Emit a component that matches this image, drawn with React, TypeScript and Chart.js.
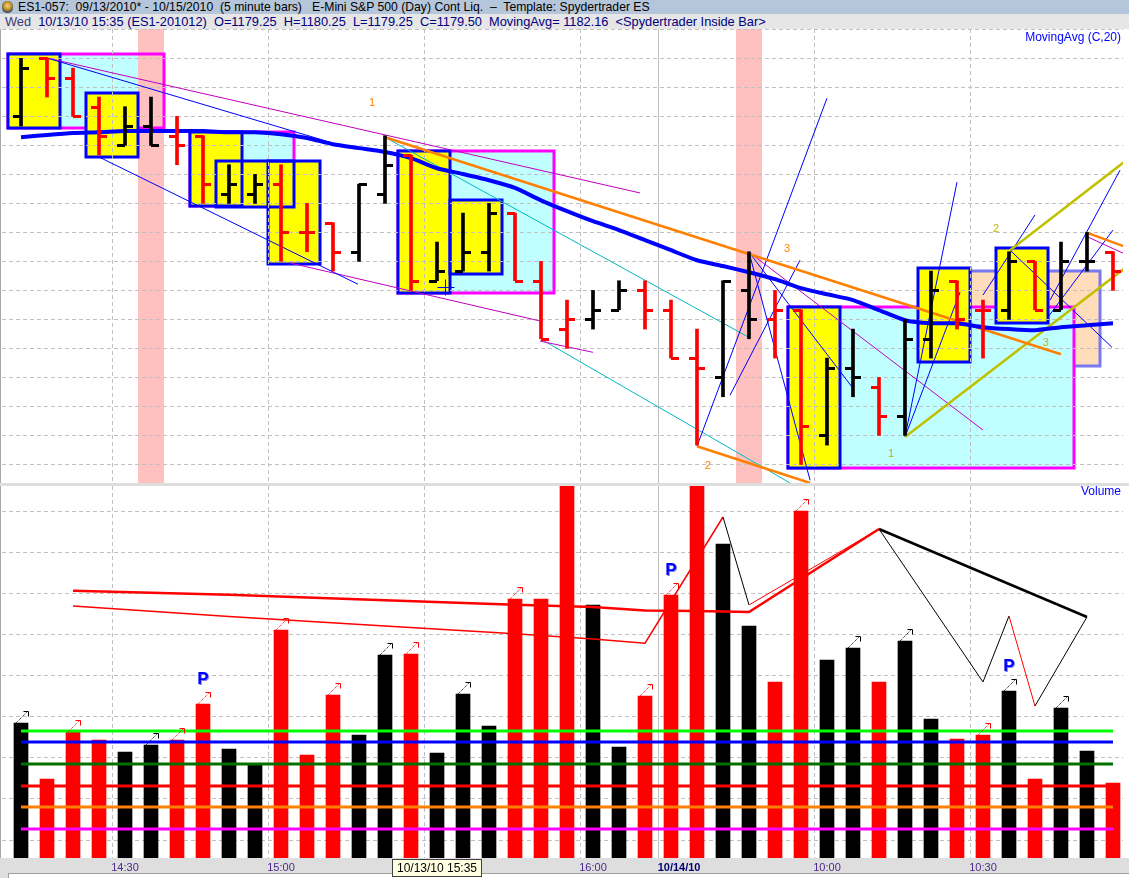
import React, { useEffect, useRef } from "react";
import { Chart, registerables } from "chart.js";

Chart.register(...registerables);

/* ================= DATA ================= */
const barTimes = ["14:15","14:20","14:25","14:30","14:35","14:40","14:45","14:50","14:55","15:00","15:05","15:10","15:15","15:20","15:25","15:30","15:35","15:40","15:45","15:50","15:55","16:00","16:05","16:10","16:15","09:35","09:40","09:45","09:50","09:55","10:00","10:05","10:10","10:15","10:20","10:25","10:30","10:35","10:40","10:45","10:50","10:55","11:00"];

const barSides = ["up","dn","dn","dn","up","up","dn","dn","up","up","dn","dn","dn","up","up","dn","up","up","up","dn","dn","dn","up","up","dn","dn","dn","up","up","dn","dn","up","up","dn","up","up","dn","dn","up","dn","up","up","dn"];

const opens = [1183.5,1185.0,1184.5,1183.75,1182.75,1183.25,1183.0,1183.0,1181.5,1181.5,1181.75,1180.5,1180.75,1180.0,1181.5,1182.5,1179.25,1179.5,1180.0,1181.0,1179.25,1178.0,1178.25,1178.5,1179.0,1178.5,1177.25,1176.75,1179.0,1178.25,1178.5,1175.25,1177.0,1176.5,1175.75,1177.75,1179.25,1178.5,1178.5,1179.75,1178.5,1179.75,1180.0];
const highs = [1185.0,1185.0,1184.75,1184.0,1183.75,1184.0,1183.5,1183.0,1182.25,1182.0,1182.25,1181.25,1180.75,1181.75,1183.0,1182.5,1180.25,1181.0,1181.25,1181.0,1179.75,1178.75,1179.0,1179.25,1179.25,1178.75,1178.0,1179.25,1180.0,1179.0,1178.5,1177.25,1178.0,1176.75,1178.25,1179.5,1179.25,1178.75,1180.0,1179.75,1180.25,1180.5,1180.0];
const lows = [1183.25,1184.0,1183.5,1182.5,1182.75,1182.75,1182.25,1181.25,1181.25,1181.25,1179.75,1180.0,1179.5,1179.75,1181.25,1179.0,1179.25,1179.5,1179.5,1179.25,1177.75,1177.5,1178.0,1178.5,1178.0,1177.25,1175.0,1176.25,1177.75,1177.25,1174.5,1175.0,1176.25,1175.25,1175.25,1177.25,1178.0,1177.25,1178.25,1178.5,1178.5,1179.5,1179.0];
const closes = [1184.75,1184.5,1183.5,1183.0,1183.25,1182.75,1182.75,1181.75,1181.75,1181.75,1180.5,1180.5,1180.0,1181.75,1182.25,1179.25,1179.5,1180.0,1181.0,1179.25,1177.75,1178.25,1178.5,1179.0,1178.5,1177.25,1177.0,1179.25,1178.25,1178.5,1175.5,1177.0,1176.75,1175.75,1177.75,1179.0,1178.25,1178.5,1179.75,1178.5,1179.75,1179.75,1179.5];

const movingAvg = [1182.96,1183.02,1183.07,1183.09,1183.12,1183.12,1183.12,1183.12,1183.09,1183.09,1183.04,1182.94,1182.78,1182.68,1182.58,1182.42,1182.16,1182.01,1181.85,1181.65,1181.33,1181.05,1180.79,1180.56,1180.30,1180.04,1179.78,1179.63,1179.47,1179.29,1179.06,1178.90,1178.75,1178.49,1178.23,1178.15,1178.15,1178.05,1178.00,1177.97,1178.05,1178.10,1178.15];

const volumes = [3854,2488,3634,3439,3146,3317,3439,4317,3220,2829,6122,3073,4537,3561,5512,5537,3122,4561,3780,6878,6878,10400,6732,3268,4512,6976,10900,8220,6220,4854,9024,5390,5683,4854,5854,3951,3463,3561,4634,2488,4220,3171,2390];

const priceGridLevels = [1174.5,1175.25,1176.0,1176.75,1177.5,1178.25,1179.0,1179.75,1180.5,1181.25,1182.0,1182.75,1183.5,1184.25,1185.0,1185.75];
const volumeGridLevels = [1000,2000,3000,4000,5000,6000,7000,8000,9000];

const timeGridAt = [4.5, 10.5, 16.5, 22.5, 31.5, 37.5];
const sessionBreakAt = 25.5;
const axisLabelBars = [5, 11, 23, 26.31, 32, 38];
const axisLabels = ["14:30", "15:00", "16:00", "10/14/10", "10:00", "10:30"];
const cursorBar = 17;
const cursorLabel = "10/13/10 15:35";
const cursorPoint = [17.31, 1179.08];

// zones: [fromBar, toBar, topPrice, bottomPrice]
const zoneBoxes = [
  [1, 6, 1185.11, 1183.19],
  [8, 11, 1183.09, 1181.18],
  [16, 21, 1182.60, 1178.93],
  [31, 41, 1178.57, 1174.40],
];
const pendingBoxes = [[38, 42, 1179.50, 1177.04]];
const insideBarBoxes = [
  [1, 2, 1185.11, 1183.19],
  [4, 5, 1184.10, 1182.45],
  [8, 9, 1183.09, 1181.18],
  [9, 11, 1182.34, 1181.16],
  [11, 12, 1182.34, 1179.68],
  [16, 17, 1182.60, 1178.93],
  [18, 19, 1181.34, 1179.42],
  [31, 32, 1178.57, 1174.40],
  [36, 37, 1179.58, 1177.15],
  [39, 40, 1180.09, 1178.15],
];
const highlightBars = [6, 29];

const blueTrendLines = [
  [[2.0, 1185.01], [13.0, 1182.81]],
  [[4.0, 1182.45], [13.96, 1179.16]],
  [[27.0, 1174.97], [32.0, 1183.97]],
  [[29.0, 1179.99], [31.35, 1174.09]],
  [[28.27, 1176.29], [30.96, 1179.78]],
  [[29.0, 1179.99], [33.0, 1176.47]],
  [[35.0, 1175.21], [37.0, 1181.80]],
  [[35.0, 1175.21], [37.12, 1178.96]],
  [[38.0, 1178.88], [40.0, 1180.95]],
  [[39.04, 1180.04], [42.96, 1177.53]],
  [[40.5, 1178.31], [43.0, 1180.56]],
  [[40.58, 1178.75], [43.27, 1182.11]],
];
const magentaTrendLines = [
  [[2.0, 1185.01], [24.81, 1181.52]],
  [[11.35, 1179.71], [20.96, 1178.21]],
  [[20.96, 1177.69], [23.0, 1177.40]],
  [[29.0, 1179.99], [38.0, 1175.39]],
  [[42.04, 1180.38], [43.62, 1179.89]],
];
const cyanTrendLines = [
  [[15.0, 1182.96], [29.04, 1177.77]],
  [[21.0, 1177.74], [30.58, 1174.02]],
];
const orangeTrendLines = [
  [[15.0, 1182.96], [41.0, 1177.35]],
  [[27.0, 1174.97], [31.35, 1174.02]],
  [[42.04, 1180.48], [43.62, 1180.09]],
];
const oliveTrendLines = [
  [[35.0, 1175.21], [43.62, 1179.66]],
  [[39.04, 1180.04], [43.62, 1182.42]],
];
const orangeWaveLabels = [[14.5, 1183.84, "1"], [27.42, 1174.46, "2"], [30.46, 1180.07, "3"]];
const oliveWaveLabels = [[34.46, 1174.77, "1"], [38.5, 1180.59, "2"], [40.42, 1177.64, "3"]];

const volumeLevels = [3659, 3390, 2854, 2317, 1805, 1268];
const volumeAvgUpper = [[3, 7080], [9, 6980], [15, 6850], [20, 6740], [23, 6680], [25, 6600], [27, 6585], [29, 6561], [34, 8585]];
const volumeAvgLower = [[3, 6707], [9, 6450], [15, 6220], [20, 6030], [23, 5900], [25, 5800], [28, 8878]];
const volumeSwings = [[28, 8878], [29, 6732], [34, 8585], [38, 4854], [39, 6463], [40, 4268], [42, 6439]];
const volumeSwingTrend = [[34, 8585], [42, 6439]];
const arrowBars = [1, 3, 6, 7, 8, 11, 13, 15, 16, 18, 20, 25, 26, 31, 33, 35, 38, 39, 41];
const pBars = [8, 26, 39];

/* ================= STYLE ================= */
const FONT = '"Liberation Sans", Arial, sans-serif';
const X_MIN = 0.269;
const X_MAX = 43.385;
const UP = "#000000";
const DN = "#FF0000";
const sideColor = (s: string) => (s === "up" ? UP : DN);
const levelColors = ["#00FF00", "#0000FF", "#007000", "#FF0000", "#FF8000", "#FF00FF"];
const swingColors = ["#000000", "#FF0000", "#000000", "#000000", "#FF0000", "#000000"];
const GRID = "#C0C0C0";

const seg = (pts: number[][], color: string, width: number, order: number) => ({
  type: "line",
  data: pts.map(([x, y]) => ({ x, y })),
  borderColor: color,
  borderWidth: width,
  pointRadius: 0,
  fill: false,
  tension: 0,
  order,
});

function drawVerticalGrid(chart: any) {
  const { ctx, chartArea: a, scales } = chart;
  const x = scales.x;
  ctx.save();
  ctx.strokeStyle = GRID;
  ctx.lineWidth = 1;
  ctx.setLineDash([4, 3]);
  for (const g of timeGridAt) {
    const px = Math.round(x.getPixelForValue(g)) + 0.5;
    ctx.beginPath();
    ctx.moveTo(px, a.top);
    ctx.lineTo(px, a.bottom);
    ctx.stroke();
  }
  ctx.setLineDash([]);
  const sx = Math.round(x.getPixelForValue(sessionBreakAt)) + 0.5;
  ctx.beginPath();
  ctx.moveTo(sx, a.top);
  ctx.lineTo(sx, a.bottom);
  ctx.stroke();
  ctx.restore();
}

const pricePlugin = {
  id: "pricePanel",
  beforeDraw(chart: any) {
    const { ctx, chartArea: a, scales } = chart;
    const x = scales.x;
    const y = scales.y;
    ctx.save();
    ctx.fillStyle = "#FFFFFF";
    ctx.fillRect(0, 0, chart.width, chart.height);
    ctx.fillStyle = "#A8A8A8";
    ctx.fillRect(0, 0, 1, chart.height);
    ctx.beginPath();
    ctx.rect(a.left, a.top, a.right - a.left, a.bottom - a.top);
    ctx.clip();
    const rect = (b: number[]) => {
      const l = x.getPixelForValue(b[0] - 0.5);
      const r = x.getPixelForValue(b[1] + 0.5);
      const t = y.getPixelForValue(b[2]);
      const bt = y.getPixelForValue(b[3]);
      return [Math.round(l), Math.round(t), Math.round(r - l), Math.round(bt - t)];
    };
    ctx.lineWidth = 3;
    for (const b of pendingBoxes) {
      const [l, t, w, h] = rect(b);
      ctx.fillStyle = "#FFDDBB";
      ctx.fillRect(l, t, w, h);
      ctx.strokeStyle = "#7878F0";
      ctx.strokeRect(l, t, w, h);
    }
    for (const b of zoneBoxes) {
      const [l, t, w, h] = rect(b);
      ctx.fillStyle = "#C0FFFF";
      ctx.fillRect(l, t, w, h);
    }
    for (const k of highlightBars) {
      const l = Math.round(x.getPixelForValue(k - 0.5));
      const r = Math.round(x.getPixelForValue(k + 0.5));
      ctx.fillStyle = "#FFC0C0";
      ctx.fillRect(l, a.top, r - l, a.bottom - a.top);
    }
    for (const b of zoneBoxes) {
      const [l, t, w, h] = rect(b);
      ctx.strokeStyle = "#FF00FF";
      ctx.strokeRect(l, t, w, h);
    }
    for (const b of insideBarBoxes) {
      const [l, t, w, h] = rect(b);
      ctx.fillStyle = "#FFFF00";
      ctx.fillRect(l, t, w, h);
    }
    for (const b of insideBarBoxes) {
      const [l, t, w, h] = rect(b);
      ctx.strokeStyle = "#0000FF";
      ctx.strokeRect(l, t, w, h);
    }
    ctx.restore();
  },
  beforeDatasetsDraw(chart: any) {
    drawVerticalGrid(chart);
  },
  afterDatasetsDraw(chart: any) {
    const { ctx, chartArea: a, scales } = chart;
    const x = scales.x;
    const y = scales.y;
    ctx.save();
    ctx.beginPath();
    ctx.rect(a.left, a.top, a.right - a.left, a.bottom - a.top);
    ctx.clip();
    barTimes.forEach((_, i) => {
      const cx = Math.round(x.getPixelForValue(i + 1));
      ctx.fillStyle = sideColor(barSides[i]);
      const yo = Math.round(y.getPixelForValue(opens[i]));
      const yc = Math.round(y.getPixelForValue(closes[i]));
      ctx.fillRect(cx - 8, yo - 1, 8, 3);
      ctx.fillRect(cx, yc - 1, 8, 3);
    });
    ctx.font = `11px ${FONT}`;
    ctx.textAlign = "center";
    ctx.textBaseline = "middle";
    for (const [b, p, t] of orangeWaveLabels as any) {
      ctx.fillStyle = "#FF8000";
      ctx.fillText(t, x.getPixelForValue(b), y.getPixelForValue(p));
    }
    for (const [b, p, t] of oliveWaveLabels as any) {
      ctx.fillStyle = "#C0B400";
      ctx.fillText(t, x.getPixelForValue(b), y.getPixelForValue(p));
    }
    const ccx = Math.round(x.getPixelForValue(cursorPoint[0])) + 0.5;
    const ccy = Math.round(y.getPixelForValue(cursorPoint[1])) + 0.5;
    ctx.strokeStyle = "#0000FF";
    ctx.lineWidth = 1;
    ctx.beginPath();
    ctx.moveTo(ccx - 8, ccy);
    ctx.lineTo(ccx + 9, ccy);
    ctx.moveTo(ccx, ccy - 8);
    ctx.lineTo(ccx, ccy + 8);
    ctx.stroke();
    ctx.restore();
    ctx.save();
    ctx.font = `12px ${FONT}`;
    ctx.fillStyle = "#0000FF";
    ctx.textAlign = "right";
    ctx.textBaseline = "middle";
    ctx.fillText("MovingAvg (C,20)", a.right - 2, 9);
    ctx.restore();
  },
};

const volumePlugin = {
  id: "volumePanel",
  beforeDraw(chart: any) {
    const { ctx, chartArea: a } = chart;
    ctx.save();
    ctx.fillStyle = "#DEDEDE";
    ctx.fillRect(0, 0, chart.width, chart.height);
    ctx.fillStyle = "#FFFFFF";
    ctx.fillRect(1, 0, chart.width - 1, a.bottom);
    ctx.fillStyle = "#A8A8A8";
    ctx.fillRect(0, 0, 1, a.bottom);
    ctx.fillStyle = "#FFFFFF";
    ctx.fillRect(8, a.bottom + 15, chart.width - 8, 5);
    ctx.fillStyle = "#A0A0A0";
    ctx.fillRect(8, a.bottom + 15, chart.width - 8, 1);
    ctx.fillRect(8, a.bottom + 15, 1, 5);
    ctx.restore();
  },
  beforeDatasetsDraw(chart: any) {
    drawVerticalGrid(chart);
  },
  afterDatasetsDraw(chart: any) {
    const { ctx, chartArea: a, scales } = chart;
    const x = scales.x;
    const y = scales.y;
    ctx.save();
    ctx.beginPath();
    ctx.rect(a.left, a.top, a.right - a.left, a.bottom - a.top);
    ctx.clip();
    ctx.lineWidth = 1;
    for (const k of arrowBars) {
      const cx = Math.round(x.getPixelForValue(k));
      const top = Math.round(y.getPixelForValue(volumes[k - 1]));
      const col = sideColor(barSides[k - 1]);
      ctx.strokeStyle = col;
      ctx.setLineDash([1, 1]);
      ctx.beginPath();
      ctx.moveTo(cx - 5, top);
      ctx.lineTo(cx + 7, top - 12);
      ctx.stroke();
      ctx.setLineDash([]);
      ctx.beginPath();
      ctx.moveTo(cx + 2.5, top - 11.5);
      ctx.lineTo(cx + 7.5, top - 11.5);
      ctx.lineTo(cx + 7.5, top - 6.5);
      ctx.stroke();
    }
    ctx.font = `bold 17px ${FONT}`;
    ctx.textAlign = "center";
    ctx.textBaseline = "middle";
    for (const k of pBars) {
      const cx = x.getPixelForValue(k);
      const top = y.getPixelForValue(volumes[k - 1]);
      ctx.fillStyle = "#8080FF";
      ctx.fillText("P", cx + 1, top - 24);
      ctx.fillStyle = "#0000FF";
      ctx.fillText("P", cx, top - 25);
    }
    ctx.restore();
    ctx.save();
    ctx.font = `12px ${FONT}`;
    ctx.fillStyle = "#0000FF";
    ctx.textAlign = "right";
    ctx.textBaseline = "middle";
    ctx.fillText("Volume", a.right - 2, 6);
    ctx.restore();
  },
  afterDraw(chart: any) {
    const { ctx, chartArea: a, scales } = chart;
    const cx = scales.x.getPixelForValue(cursorBar);
    ctx.save();
    ctx.font = `12px ${FONT}`;
    const w = Math.ceil(ctx.measureText(cursorLabel).width) + 8;
    const l = Math.round(cx - w / 2) + 0.5;
    const t = a.bottom + 1.5;
    ctx.fillStyle = "#FFFFE1";
    ctx.fillRect(l, t, w, 17);
    ctx.strokeStyle = "#404040";
    ctx.lineWidth = 1;
    ctx.strokeRect(l, t, w, 17);
    ctx.fillStyle = "#000000";
    ctx.textAlign = "center";
    ctx.textBaseline = "middle";
    ctx.fillText(cursorLabel, l + w / 2, t + 9);
    ctx.restore();
  },
};

export default function App() {
  const priceRef = useRef<HTMLCanvasElement>(null);
  const volRef = useRef<HTMLCanvasElement>(null);

  useEffect(() => {
    const barColors = barSides.map(sideColor);
    const priceChart = new Chart(priceRef.current as HTMLCanvasElement, {
      type: "bar",
      data: {
        datasets: [
          {
            type: "bar",
            data: barTimes.map((_, i) => ({ x: i + 1, y: [lows[i], highs[i]] })),
            backgroundColor: barColors,
            barThickness: 3,
            borderWidth: 0,
            order: 0,
          },
          {
            type: "line",
            data: movingAvg.map((v, i) => ({ x: i + 1, y: v })),
            borderColor: "#0000FF",
            borderWidth: 4,
            pointRadius: 0,
            tension: 0.2,
            fill: false,
            order: 1,
          },
          ...orangeTrendLines.map((p) => seg(p, "#FF8000", 2.5, 2)),
          ...oliveTrendLines.map((p) => seg(p, "#C0C000", 2.5, 2)),
          ...blueTrendLines.map((p) => seg(p, "#0000FF", 1, 3)),
          ...magentaTrendLines.map((p) => seg(p, "#C000C0", 1, 3)),
          ...cyanTrendLines.map((p) => seg(p, "#00B8C0", 1, 3)),
        ] as any,
      },
      options: {
        responsive: false,
        animation: false,
        devicePixelRatio: 1,
        events: [],
        layout: { padding: { left: 2, right: 6, top: 0, bottom: 0 } },
        plugins: { legend: { display: false }, tooltip: { enabled: false } },
        scales: {
          x: {
            type: "linear",
            min: X_MIN,
            max: X_MAX,
            offset: false,
            grid: { display: false },
            ticks: { display: false },
            border: { display: false },
            afterFit: (s: any) => { s.height = 0; },
          },
          y: {
            type: "linear",
            position: "right",
            min: 1174.02,
            max: 1185.76,
            afterBuildTicks: (s: any) => { s.ticks = priceGridLevels.map((v) => ({ value: v })); },
            ticks: { display: false },
            grid: { color: GRID, drawTicks: false, lineWidth: 1 },
            border: { display: false, dash: [4, 3] },
            afterFit: (s: any) => { s.width = 0; },
          },
        },
      } as any,
      plugins: [pricePlugin],
    });

    const volChart = new Chart(volRef.current as HTMLCanvasElement, {
      type: "bar",
      data: {
        datasets: [
          ...volumeLevels.map((v, i) => ({
            type: "line",
            data: [{ x: 1, y: v }, { x: 43, y: v }],
            borderColor: levelColors[i],
            borderWidth: 3,
            pointRadius: 0,
            fill: false,
            order: 3,
          })),
          seg(volumeAvgUpper, "#FF0000", 2.5, 2),
          seg(volumeAvgLower, "#FF0000", 1.5, 2),
          {
            type: "line",
            data: volumeSwings.map(([x, y]) => ({ x, y })),
            borderWidth: 1,
            borderColor: "#000000",
            segment: { borderColor: (c: any) => swingColors[c.p0DataIndex] },
            pointRadius: 0,
            fill: false,
            tension: 0,
            order: 1,
          },
          seg(volumeSwingTrend, "#000000", 2.5, 1),
          {
            type: "bar",
            data: volumes.map((v, i) => ({ x: i + 1, y: v })),
            backgroundColor: barColors,
            barThickness: 14,
            borderWidth: 0,
            order: 10,
          },
        ] as any,
      },
      options: {
        responsive: false,
        animation: false,
        devicePixelRatio: 1,
        events: [],
        layout: { padding: { left: 2, right: 6, top: 0, bottom: 0 } },
        plugins: { legend: { display: false }, tooltip: { enabled: false } },
        scales: {
          x: {
            type: "linear",
            min: X_MIN,
            max: X_MAX,
            offset: false,
            grid: { display: false, drawTicks: false },
            border: { display: false },
            afterBuildTicks: (s: any) => { s.ticks = axisLabelBars.map((v) => ({ value: v })); },
            ticks: {
              autoSkip: false,
              maxRotation: 0,
              padding: 3,
              callback: (_v: any, i: number) => axisLabels[i],
              color: (c: any) => (axisLabels[c.index] && axisLabels[c.index].includes("/") ? "#000070" : "#4A2A8A"),
              font: (c: any) => ({
                family: FONT,
                size: 11,
                weight: axisLabels[c.index] && axisLabels[c.index].includes("/") ? "bold" : "normal",
              }),
            },
            afterFit: (s: any) => { s.height = 20; },
          },
          y: {
            type: "linear",
            position: "right",
            min: 561,
            max: 9634,
            afterBuildTicks: (s: any) => { s.ticks = volumeGridLevels.map((v) => ({ value: v })); },
            ticks: { display: false },
            grid: { color: GRID, drawTicks: false, lineWidth: 1 },
            border: { display: false, dash: [4, 3] },
            afterFit: (s: any) => { s.width = 0; },
          },
        },
      } as any,
      plugins: [volumePlugin],
    });

    return () => {
      priceChart.destroy();
      volChart.destroy();
    };
  }, []);

  const k = cursorBar - 1;
  const title =
    "ES1-057:  09/13/2010* - 10/15/2010  (5 minute bars)   E-Mini S&P 500 (Day) Cont Liq.  \u2013  Template: Spydertrader ES";
  const info =
    `10/13/10 ${barTimes[k]} (ES1-201012)  O=${opens[k].toFixed(2)}  H=${highs[k].toFixed(2)}  L=${lows[k].toFixed(2)}  C=${closes[k].toFixed(2)}  MovingAvg= ${movingAvg[k].toFixed(2)}  <Spydertrader Inside Bar>`;

  return (
    <div
      style={{
        position: "absolute",
        left: 0,
        top: 0,
        width: 1129,
        height: 878,
        overflow: "hidden",
        background: "#DEDEDE",
        fontFamily: FONT,
      }}
    >
      <div style={{ position: "absolute", left: 0, top: 0, width: 1129, height: 14, background: "#B6C6DA" }}>
        <div
          style={{
            position: "absolute",
            left: 2,
            top: 1,
            width: 11,
            height: 12,
            borderRadius: 5,
            background: "radial-gradient(circle at 50% 40%, #F4D87A 0%, #B88A2A 45%, #2A3A6A 80%)",
          }}
        />
        <span
          style={{
            position: "absolute",
            left: 18,
            top: 0,
            fontSize: 12.2,
            lineHeight: "14px",
            color: "#000000",
            whiteSpace: "pre",
          }}
        >
          {title}
        </span>
      </div>
      <div style={{ position: "absolute", left: 0, top: 14, width: 1129, height: 15, background: "#E6E6E6" }}>
        <span
          style={{
            position: "absolute",
            left: 5,
            top: 0,
            fontSize: 12.8,
            lineHeight: "15px",
            color: "#3A3A7A",
            whiteSpace: "pre",
          }}
        >
          {"Wed  "}
          <span style={{ color: "#000080" }}>{info}</span>
        </span>
      </div>
      <canvas ref={priceRef} width={1129} height={454} style={{ position: "absolute", left: 0, top: 29 }} />
      <canvas ref={volRef} width={1129} height={392} style={{ position: "absolute", left: 0, top: 486 }} />
    </div>
  );
}
